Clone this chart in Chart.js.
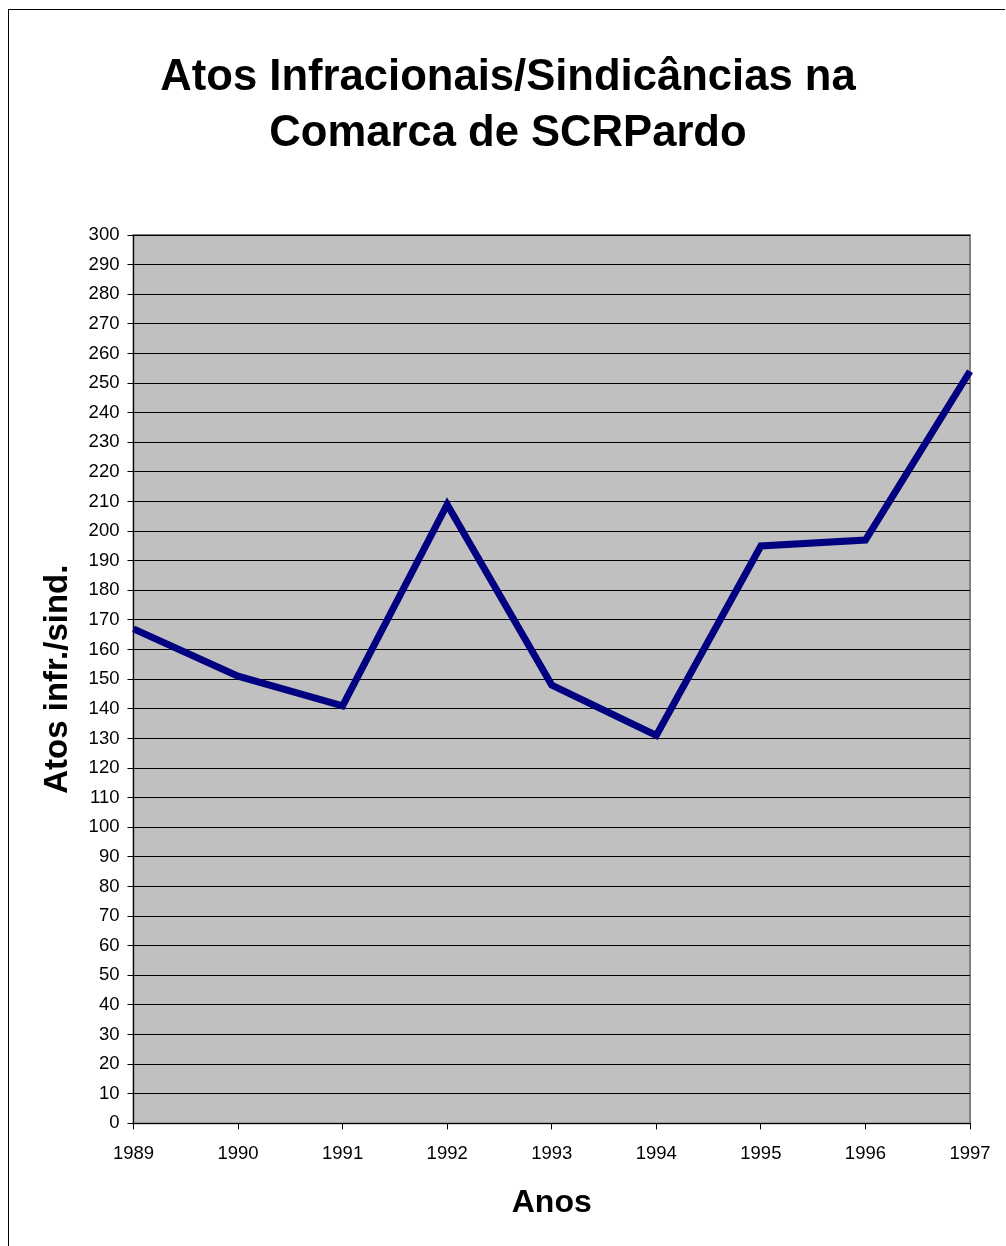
<!DOCTYPE html>
<html>
<head>
<meta charset="utf-8">
<script src="https://cdn.jsdelivr.net/npm/chart.js@4.4.1/dist/chart.umd.min.js"></script>
<style>
body{margin:0;background:#fff;overflow:hidden;}
#frame{position:absolute;left:8px;top:9px;width:997px;height:1237px;border-top:1px solid #000;border-left:1px solid #000;box-sizing:border-box;}
#wrap{position:absolute;left:0;top:0;width:1006px;height:1246px;}
</style>
</head>
<body>
<div id="frame"></div>
<div id="wrap"><canvas id="chart"></canvas></div>
<script>
//Data
var years = ["1989","1990","1991","1992","1993","1994","1995","1996","1997"];
var atos = [167,151,141,209,148,131,195,197,254];
var yMin = 0, yMax = 300, yStep = 10;
//Plot background
var plotBg = {
	id:'plotBg',
	afterLayout:function(chart){
		//nudge title to match original centring
		if(chart.titleBlock){chart.titleBlock.left += 4;chart.titleBlock.right += 4;}
	},
	beforeDraw:function(chart){
		var a = chart.chartArea, ctx = chart.ctx;
		ctx.save();
		ctx.fillStyle = '#c0c0c0';
		ctx.fillRect(a.left,a.top,a.right-a.left,a.bottom-a.top);
		ctx.strokeStyle = '#808080';
		ctx.lineWidth = 2;
		ctx.strokeRect(a.left,a.top,a.right-a.left,a.bottom-a.top);
		ctx.restore();
	}
};
Chart.defaults.font.family = "'Liberation Sans', Arial, sans-serif";
Chart.defaults.color = '#000';
var ctx = document.getElementById('chart');
var chart = new Chart(ctx,{
	type:'line',
	data:{
		labels:years,
		datasets:[{
			label:'Atos infr./sind.',
			data:atos,
			borderColor:'#000080',
			borderWidth:7,
			pointRadius:0,
			tension:0,
			fill:false
		}]
	},
	options:{
		responsive:true,
		maintainAspectRatio:false,
		animation:false,
		layout:{padding:{left:38,right:36,top:20,bottom:20}},
		plugins:{
			legend:{display:false},
			tooltip:{enabled:false},
			title:{
				display:true,
				text:['Atos Infracionais/Sindicâncias na','Comarca de SCRPardo'],
				font:{size:43.6,weight:'bold',lineHeight:56/43.6},
				padding:{top:30,bottom:73}
			}
		},
		scales:{
			x:{
				offset:false,
				grid:{drawOnChartArea:false,drawTicks:true,tickLength:6,color:'#000'},
				border:{color:'#000',width:1},
				ticks:{font:{size:18.5},padding:13,maxRotation:0},
				title:{display:true,text:'Anos',font:{size:32,weight:'bold'},padding:{top:6}}
			},
			y:{
				min:yMin,max:yMax,
				grid:{color:'#000',tickLength:6,lineWidth:1},
				border:{color:'#000',width:1},
				ticks:{stepSize:yStep,autoSkip:false,font:{size:18.5},padding:8},
				title:{display:true,text:'Atos infr./sind.',font:{size:33,weight:'bold'},padding:{top:0,bottom:3}}
			}
		}
	},
	plugins:[plotBg]
});
</script>
</body>
</html>
